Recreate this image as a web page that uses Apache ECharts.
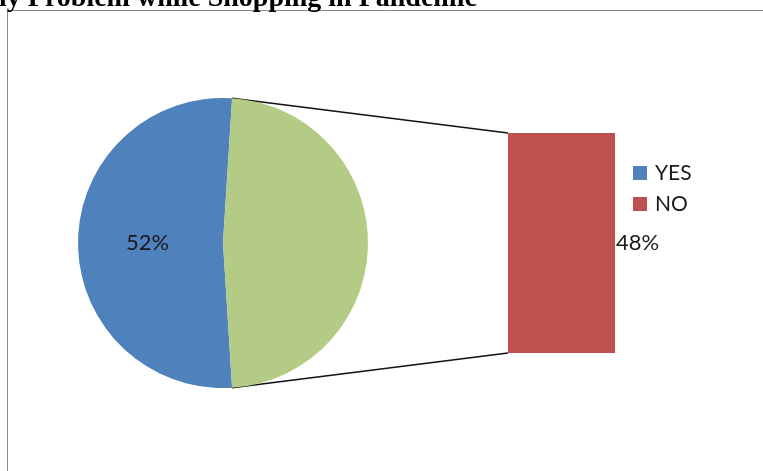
<!DOCTYPE html>
<html>
<head>
<meta charset="utf-8">
<script src="https://cdn.jsdelivr.net/npm/echarts@6/dist/echarts.min.js"></script>
<style>html,body{margin:0;padding:0;background:#fff;}#c{width:763px;height:471px;}</style>
</head>
<body>
<div id="c"></div>
<script>
var titleText = 'ly Problem while Shopping in Pandemic';
var pieNames = ['YES', 'Other'];
var pieValues = [52, 48];
var barNames = ['NO'];
var barValues = [48];
var legendNames = ['YES', 'NO'];

var colBlue = '#4F81BD', colGreen = '#B4CB85', colRed = '#C0504D';
var pieCenter = [223, 243], pieR = 145;
var total = pieValues[0] + pieValues[1];
var blueAngle = pieValues[0] / total * 360;
var startAngle = 180 - blueAngle / 2;

var chart = echarts.init(document.getElementById('c'));
var font = 'Lato, "Open Sans", sans-serif';
chart.setOption({
  animation: false,
  legend: {
    orient: 'vertical', left: 628, top: 157,
    data: legendNames,
    itemWidth: 14, itemHeight: 14, itemGap: 9,
    icon: 'rect',
    textStyle: { fontFamily: font, fontSize: 21, color: '#1a1a1a', lineHeight: 22, padding: [0,0,0,3] }
  },
  grid: { left: 508, top: 133, width: 107, height: 220 },
  xAxis: { type: 'category', data: barNames, show: false },
  yAxis: { type: 'value', min: 0, max: barValues[0], show: false },
  series: [
    {
      type: 'pie', center: pieCenter, radius: pieR,
      clockwise: false, startAngle: startAngle,
      data: [
        { name: pieNames[0], value: pieValues[0], itemStyle: { color: colBlue },
          label: { show: true, position: 'inside', formatter: function (p) { return Math.round(p.percent) + '%'; },
                   fontFamily: font, fontSize: 22, color: '#1a1a1a' } },
        { name: pieNames[1], value: pieValues[1], itemStyle: { color: colGreen }, label: { show: false } }
      ],
      labelLine: { show: false },
      emphasis: { disabled: true }
    },
    {
      type: 'bar', name: 'NO', data: barValues, barWidth: '100%',
      itemStyle: { color: colRed },
      label: { show: true, position: 'right', distance: 1, formatter: '{c}%',
               fontFamily: font, fontSize: 22, color: '#1a1a1a' }
    }
  ]
});

function drawExtras() {
  var gridRect = chart.getModel().getComponent('grid').coordinateSystem.getRect();
  var topPt = chart.convertToPixel({ xAxisIndex: 0, yAxisIndex: 0 }, [barNames[0], barValues[0]]);
  var botPt = chart.convertToPixel({ xAxisIndex: 0, yAxisIndex: 0 }, [barNames[0], 0]);
  var a1 = startAngle * Math.PI / 180, a2 = (startAngle + blueAngle) * Math.PI / 180;
  var p1 = [pieCenter[0] + pieR * Math.cos(a1), pieCenter[1] - pieR * Math.sin(a1)];
  var p2 = [pieCenter[0] + pieR * Math.cos(a2), pieCenter[1] - pieR * Math.sin(a2)];
  chart.setOption({
    graphic: [
      { type: 'rect', shape: { x: 7.5, y: 10.5, width: 800, height: 600 }, style: { fill: 'none', stroke: '#8a8a8a', lineWidth: 1 }, silent: true, z: -10 },
      { type: 'line', shape: { x1: p1[0], y1: p1[1], x2: gridRect.x, y2: topPt[1] }, style: { stroke: '#111', lineWidth: 1.6 }, silent: true },
      { type: 'line', shape: { x1: p2[0], y1: p2[1], x2: gridRect.x, y2: botPt[1] }, style: { stroke: '#111', lineWidth: 1.6 }, silent: true },
      { type: 'text', x: -1, y: 13, style: { text: titleText, font: 'bold 28px "Liberation Serif", serif', fill: '#000', verticalAlign: 'bottom' }, silent: true }
    ]
  });
}
drawExtras();
</script>
</body>
</html>
